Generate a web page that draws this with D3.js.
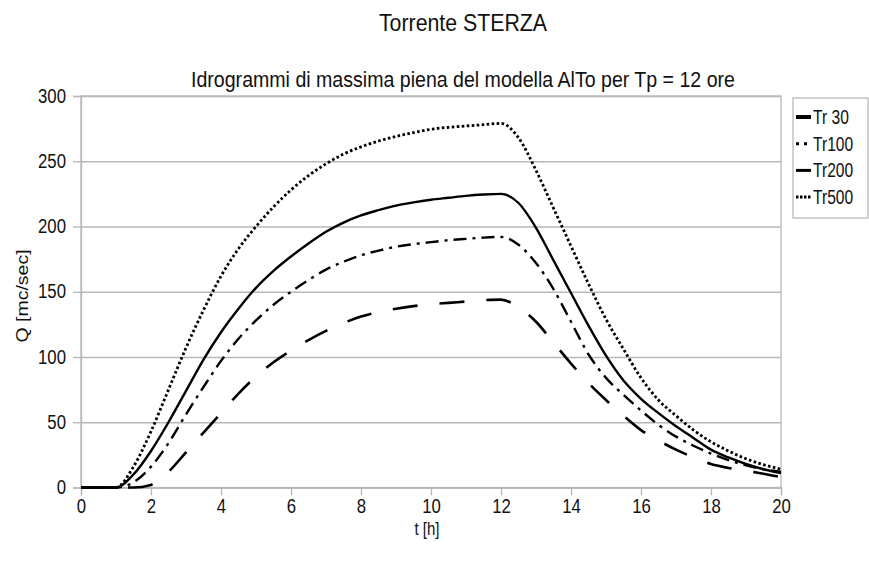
<!DOCTYPE html>
<html>
<head>
<meta charset="utf-8">
<script src="https://cdn.jsdelivr.net/npm/d3@7/dist/d3.min.js"></script>
<style>
  html, body { margin: 0; padding: 0; background: #fff; }
  svg { display: block; font-family: "Liberation Sans", Arial, sans-serif; }
</style>
</head>
<body>
<svg id="chart" width="869" height="566"></svg>
<script>
// Hydrographs of Torrente STERZA, flow Q [mc/sec] against time t [h]
const hours = [0, 0.5, 1, 1.5, 2, 2.5, 3, 3.5, 4, 4.5, 5, 5.5, 6, 6.5, 7, 7.5, 8, 8.5, 9, 9.5,
               10, 10.5, 11, 11.5, 12, 12.5, 13, 13.5, 14, 14.5, 15, 15.5, 16, 16.5, 17, 17.5, 18, 18.5, 19, 19.5, 20];

const tr30  = [0, 0, 0, 0, 2, 12, 27, 42, 57, 72, 85, 96, 105, 113, 120, 126, 131, 134.5, 137, 139,
               140.5, 141.5, 142.5, 143.5, 144, 138, 127, 111, 95, 80, 67, 55, 44, 36, 29, 23, 18, 15, 13, 10.5, 8];
const tr100 = [0, 0, 0, 4, 16, 34, 56, 77, 97, 114, 128, 140, 150, 159, 167, 173, 178, 181.5, 184.5, 186.5,
               188, 189.5, 190.5, 191.5, 192, 186, 172, 152, 127, 102, 84, 71, 59, 48, 39, 32, 26, 21, 17, 14, 12];
const tr200 = [0, 0, 0, 10, 28, 50, 74, 98, 119, 137, 153, 166, 177, 187, 196, 203, 208.5, 212.5, 216, 218.5,
               220.5, 222, 223.5, 224.5, 225, 218, 199, 174, 149, 124, 101, 82, 68, 57, 47, 38, 29, 23, 18, 14, 11];
const tr500 = [0, 0, 0, 16, 43, 75, 107, 136, 162, 183, 200, 215, 228, 239, 248, 255.5, 261, 265.5, 269, 272,
               274.5, 276, 277, 278, 279, 268, 243, 214, 185, 156, 129, 106, 84, 67, 55, 44, 35, 28, 22, 17.5, 14];

const seriesNames = ["Tr 30", "Tr100", "Tr200", "Tr500"];
const xTicks = [0, 2, 4, 6, 8, 10, 12, 14, 16, 18, 20];
const yTicks = [0, 50, 100, 150, 200, 250, 300];

const titleText = "Torrente STERZA";
const subtitleText = "Idrogrammi di massima piena del modella AlTo per Tp = 12 ore";
const xLabel = "t [h]";
const yLabel = "Q [mc/sec]";

// line styles per series
const styles = {
  "Tr 30": { width: 2.6, dash: "25,22", legendWidth: 4, legendDash: null },
  "Tr100": { width: 2.4, dash: "13,6,3,6", legendWidth: 3, legendDash: "3,5" },
  "Tr200": { width: 2.4, dash: null, legendWidth: 3, legendDash: null },
  "Tr500": { width: 2.8, dash: "2.6,2.4", legendWidth: 3, legendDash: "2.5,1.5" }
};

const SX = 0.86; // horizontal text compression

const svg = d3.select("#chart");
const margin = { left: 81, right: 88, top: 96, bottom: 78.5 };
const W = 869, H = 566;
const iw = W - margin.left - margin.right;  // 700
const ih = H - margin.top - margin.bottom;  // 391.5

const x = d3.scaleLinear().domain([0, 20]).range([0, iw]);
const y = d3.scaleLinear().domain([0, 300]).range([ih, 0]);

const g = svg.append("g").attr("transform", `translate(${margin.left},${margin.top})`);

// horizontal grid
g.append("g")
  .attr("class", "grid")
  .call(d3.axisLeft(y).tickValues(yTicks).tickSize(-iw).tickFormat(""))
  .call(s => s.select(".domain").remove())
  .call(s => s.selectAll("line").attr("stroke", "#b8b8b8").attr("stroke-width", 1.3));

// plot frame
g.append("rect")
  .attr("x", 0).attr("y", 0).attr("width", iw).attr("height", ih)
  .attr("fill", "none").attr("stroke", "#b8b8b8").attr("stroke-width", 1.3);

// axes
const yAxis = g.append("g")
  .call(d3.axisLeft(y).tickValues(yTicks).tickSize(8).tickPadding(7));
const xAxis = g.append("g")
  .attr("transform", `translate(0,${ih})`)
  .call(d3.axisBottom(x).tickValues(xTicks).tickSize(8).tickPadding(4));

[yAxis, xAxis].forEach(a => {
  a.select(".domain").attr("stroke", "#b8b8b8").attr("stroke-width", 1.3);
  a.selectAll(".tick line").attr("stroke", "#b8b8b8").attr("stroke-width", 1.3);
  a.selectAll(".tick text")
    .attr("fill", "#111")
    .attr("font-size", 19.5)
    .attr("font-family", "Liberation Sans, Arial, sans-serif")
    .attr("transform", `scale(${SX},1)`);
});
yAxis.selectAll(".tick text").attr("x", -15 / SX);

// curves
const data = { "Tr 30": tr30, "Tr100": tr100, "Tr200": tr200, "Tr500": tr500 };
const line = d3.line()
  .x((d, i) => x(hours[i]))
  .y(d => y(d))
  .curve(d3.curveMonotoneX);

seriesNames.forEach(name => {
  const st = styles[name];
  g.append("path")
    .datum(data[name])
    .attr("fill", "none")
    .attr("stroke", "#000")
    .attr("stroke-width", st.width)
    .attr("stroke-dasharray", st.dash)
    .attr("d", line);
});

// text helper with horizontal compression
function label(px, py, txt, size, anchor, sx, rotate) {
  const t = svg.append("text")
    .attr("transform", `translate(${px},${py})` + (rotate ? ` rotate(${rotate})` : "") +
          (rotate ? ` scale(1,${sx})` : ` scale(${sx},1)`))
    .attr("text-anchor", anchor)
    .attr("font-size", size)
    .attr("fill", "#111")
    .text(txt);
  return t;
}

label(463, 31, titleText, 24.5, "middle", 0.87);
label(463, 87, subtitleText, 22.5, "middle", 0.87);
label(427, 535, xLabel, 17.5, "middle", SX);
label(28, 296, yLabel, 19.5, "middle", SX, -90);

// legend
const lg = svg.append("g");
lg.append("rect")
  .attr("x", 793).attr("y", 98).attr("width", 75).attr("height", 120)
  .attr("fill", "#fff").attr("stroke", "#b8b8b8").attr("stroke-width", 1.3);

seriesNames.forEach((name, i) => {
  const ly = 117 + i * 26.7;
  const st = styles[name];
  lg.append("line")
    .attr("x1", 796).attr("x2", 811)
    .attr("y1", ly).attr("y2", ly)
    .attr("stroke", "#000")
    .attr("stroke-width", st.legendWidth)
    .attr("stroke-dasharray", st.legendDash);
  label(813, ly + 7, name, 19.5, "start", 0.8);
});
</script>
</body>
</html>
